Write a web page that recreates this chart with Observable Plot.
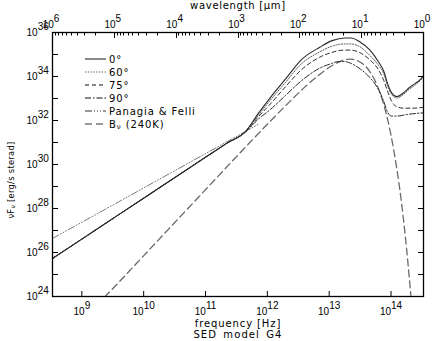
<!DOCTYPE html>
<html><head><meta charset="utf-8">
<script src="https://cdn.jsdelivr.net/npm/d3@7"></script>
<script src="https://cdn.jsdelivr.net/npm/@observablehq/plot@0.6"></script>
<style>
html,body{margin:0;padding:0;background:#fff;}
#chart{width:434px;height:341px;}
</style></head><body><div id="chart"></div>
<script>
// speed of light in micron/s (frequency = C / wavelength[μm])
const C_UM = 2.998e14;

// tick exponents / labels
const freqTickExp = [9, 10, 11, 12, 13, 14];
const fluxTickExp = [24,25,26,27,28,29,30,31,32,33,34,35,36];
const fluxLabelExp = [24, 26, 28, 30, 32, 34, 36];
const waveTickExp = [6, 5, 4, 3, 2, 1, 0];
const waveMinorMult = [2, 3, 4, 5, 6, 7, 8, 9];

// series (log10 frequency [Hz], log10 νFν [erg/s sterad])
const sed0LogNu = [8.477, 9.0, 9.5, 10.0, 10.5, 11.0, 11.3, 11.6, 11.8, 12.0, 12.25, 12.5, 12.8, 13.0, 13.2, 13.3, 13.45, 13.6, 13.75, 13.83, 13.9, 13.96, 14.05, 14.15, 14.25, 14.35, 14.42, 14.477];
const sed0LogF  = [25.73, 26.7, 27.63, 28.56, 29.49, 30.42, 30.97, 31.51, 32.3, 33.04, 33.9, 34.76, 35.33, 35.63, 35.75, 35.75, 35.57, 35.23, 34.66, 34.27, 33.64, 33.27, 33.09, 33.25, 33.5, 33.7, 33.85, 34.05];

const sed60LogNu = [8.477, 9.0, 9.5, 10.0, 10.5, 11.0, 11.3, 11.6, 11.8, 12.0, 12.25, 12.5, 12.8, 13.0, 13.2, 13.3, 13.45, 13.6, 13.75, 13.83, 13.9, 13.96, 14.05, 14.15, 14.25, 14.35, 14.477];
const sed60LogF  = [25.73, 26.7, 27.63, 28.56, 29.49, 30.42, 30.97, 31.5, 32.22, 32.92, 33.75, 34.57, 35.12, 35.38, 35.48, 35.48, 35.35, 34.98, 34.5, 34.15, 33.55, 33.18, 33.02, 33.18, 33.43, 33.63, 33.97];

const sed75LogNu = [8.477, 9.0, 9.5, 10.0, 10.5, 11.0, 11.3, 11.6, 11.8, 12.0, 12.25, 12.5, 12.8, 13.0, 13.2, 13.3, 13.45, 13.6, 13.75, 13.83, 13.9, 13.96, 14.05, 14.15, 14.3, 14.477];
const sed75LogF  = [25.73, 26.7, 27.63, 28.56, 29.49, 30.42, 30.97, 31.49, 32.15, 32.75, 33.55, 34.3, 34.88, 35.1, 35.2, 35.2, 35.08, 34.78, 34.3, 33.85, 33.3, 32.88, 32.62, 32.56, 32.56, 32.6];

const sed90LogNu = [8.477, 9.0, 9.5, 10.0, 10.5, 11.0, 11.3, 11.6, 11.8, 12.0, 12.25, 12.5, 12.8, 13.0, 13.1, 13.2, 13.3, 13.45, 13.6, 13.75, 13.83, 13.9, 13.96, 14.05, 14.2, 14.477];
const sed90LogF  = [25.73, 26.7, 27.63, 28.56, 29.49, 30.42, 30.97, 31.48, 32.05, 32.5, 33.15, 33.8, 34.38, 34.6, 34.68, 34.68, 34.6, 34.35, 33.98, 33.4, 32.9, 32.35, 32.2, 32.2, 32.27, 32.35];

const pfLogNu = [8.477, 9.0, 9.5, 10.0, 10.5, 11.0, 11.5, 11.8];
const pfLogF  = [26.64, 27.45, 28.23, 29.01, 29.79, 30.57, 31.35, 31.82];

const bbLogNu = [9.2, 9.33, 9.5, 10.0, 10.5, 11.0, 11.5, 12.0, 12.25, 12.5, 12.75, 13.0, 13.15, 13.3, 13.45, 13.6, 13.75, 13.9, 14.0, 14.1, 14.2, 14.3];
const bbLogF  = [23.6, 24.0, 24.5, 26.0, 27.5, 29.0, 30.5, 31.97, 32.68, 33.37, 33.99, 34.5, 34.71, 34.79, 34.66, 34.26, 33.43, 32.01, 30.58, 28.73, 26.26, 23.13];

const legendLabels = ["0°", "60°", "75°", "90°", "Panagia & Felli", "Bν (240K)"];

const toRows = (ln, lf) => ln.map((n, i) => ({nu: 10 ** n, f: 10 ** lf[i]}));

const styles = [
  {stroke: "#2a2a2a", strokeWidth: 1.1, dash: null},
  {stroke: "#555", strokeWidth: 1, dash: "1.2,1.6"},
  {stroke: "#111", strokeWidth: 0.9, dash: "4,3"},
  {stroke: "#111", strokeWidth: 0.9, dash: "6,2,1.5,2"},
  {stroke: "#777", strokeWidth: 1, dash: "7,2,1,2,1,2,1,2"},
  {stroke: "#6a6a6a", strokeWidth: 1.3, dash: "7,4"}
];

const series = [
  toRows(sed0LogNu, sed0LogF), toRows(sed60LogNu, sed60LogF), toRows(sed75LogNu, sed75LogF),
  toRows(sed90LogNu, sed90LogF), toRows(pfLogNu, pfLogF), toRows(bbLogNu, bbLogF)
];

const lineMarks = series.map((rows, i) => Plot.line(rows, {
  x: "nu", y: "f", stroke: styles[i].stroke, strokeWidth: styles[i].strokeWidth,
  strokeDasharray: styles[i].dash, curve: "monotone-x", clip: true
})).reverse();

const freqTicks = freqTickExp.map(e => 10 ** e);
const fluxTicks = fluxTickExp.map(e => 10 ** e);
const waveMajor = waveTickExp.map(e => C_UM / 10 ** e);
const waveMinor = waveTickExp.slice(1).flatMap(e => waveMinorMult.map(k => C_UM / (k * 10 ** e)));
const expOf = d => Math.round(Math.log10(d));

const chart = Plot.plot({
  width: 434, height: 341,
  marginLeft: 52, marginRight: 11, marginTop: 32, marginBottom: 45,
  style: {fontFamily: "'Liberation Sans', Arial, sans-serif", fontSize: "10px", background: "white", color: "black"},
  x: {type: "log", domain: [C_UM / 1e6, C_UM / 1], label: null},
  y: {type: "log", domain: [1e24, 1e36], label: null},
  marks: [
    ...lineMarks,
    Plot.frame({stroke: "black", strokeWidth: 1.3}),
    Plot.axisX({anchor: "bottom", ticks: freqTicks, tickSize: -5, tickPadding: 16.5, dx: -3,
      tickFormat: d => "10^" + expOf(d), label: null}),
    Plot.axisY({anchor: "left", ticks: fluxTicks, tickSize: -6, tickPadding: 9.7,
      tickFormat: d => fluxLabelExp.includes(expOf(d)) ? "10^" + expOf(d) : "", label: null}),
    Plot.axisY({anchor: "right", ticks: fluxTicks, tickSize: -6, tickFormat: () => "", label: null})
  ]
});

document.getElementById("chart").appendChild(chart);

const NS = "http://www.w3.org/2000/svg";
const svg = d3.select(chart);
const xs = chart.scale("x");
const frameTop = 32;

// top (wavelength) axis, positioned through Plot's x scale
const ta = svg.append("g").attr("stroke", "black").attr("stroke-width", 1);
waveMajor.forEach(v => {
  const px = Math.round(xs.apply(v)) + 0.5;
  ta.append("line").attr("x1", px).attr("x2", px).attr("y1", frameTop).attr("y2", frameTop + 6);
});
waveMinor.forEach(v => {
  const px = Math.round(xs.apply(v)) + 0.5;
  ta.append("line").attr("x1", px).attr("x2", px).attr("y1", frameTop).attr("y2", frameTop + 3.5);
});
const tl = svg.append("g").attr("font-family", "'Liberation Sans', Arial, sans-serif").attr("font-size", 10)
  .attr("text-anchor", "middle").attr("fill", "black");
waveMajor.forEach(v => {
  const t = tl.append("text").attr("x", xs.apply(v) - 1).attr("y", 28.3);
  t.append("tspan").text("10");
  t.append("tspan").attr("dy", "-0.62em").text(String(expOf(C_UM / v)));
});

// superscript exponents in Plot tick labels
chart.querySelectorAll('g[aria-label$="tick label"] text').forEach(t => {
  const m = /^10\^(\d+)$/.exec(t.textContent);
  if (!m) return;
  t.textContent = "";
  const a = document.createElementNS(NS, "tspan"); a.textContent = "10"; t.appendChild(a);
  const b = document.createElementNS(NS, "tspan"); b.setAttribute("dy", "-0.62em"); b.textContent = m[1]; t.appendChild(b);
});

const titleFont = "'DejaVu Sans', sans-serif";

svg.append("text").attr("x", 238).attr("y", 9).attr("text-anchor", "middle")
  .attr("font-family", titleFont).attr("font-size", 10).attr("letter-spacing", 0.7)
  .text("wavelength [μm]");
svg.append("text").attr("x", 238).attr("y", 327).attr("text-anchor", "middle")
  .attr("font-family", titleFont).attr("font-size", 10).attr("letter-spacing", 0.9)
  .text("frequency [Hz]");
svg.append("text").attr("x", 238).attr("y", 337.5).attr("text-anchor", "middle")
  .attr("font-family", titleFont).attr("font-size", 10).attr("letter-spacing", 1.1)
  .attr("word-spacing", 2).text("SED model G4");

// y label
const yl = svg.append("text").attr("transform", "translate(13.5,180) rotate(-90)")
  .attr("text-anchor", "middle").attr("font-family", titleFont).attr("font-size", 8.3)
  .attr("letter-spacing", 0.3);
yl.append("tspan").text("νF");
yl.append("tspan").attr("font-size", 6).attr("dy", 1.8).text("ν");
yl.append("tspan").attr("dy", -1.8).text(" [erg/s sterad]");

// legend
const lg = svg.append("g");
legendLabels.forEach((lab, i) => {
  const y = 59 + i * 13;
  lg.append("line").attr("x1", 85).attr("x2", 106).attr("y1", y).attr("y2", y)
    .attr("stroke", i >= 4 ? "#333" : styles[i].stroke).attr("stroke-width", 1.1)
    .attr("stroke-dasharray", styles[i].dash);
  const t = lg.append("text").attr("x", 109).attr("y", y + 3.6).attr("text-anchor", "start")
    .attr("font-family", titleFont).attr("font-size", 10).attr("letter-spacing", 0.9);
  if (lab.startsWith("Bν")) {
    t.append("tspan").text("B");
    t.append("tspan").attr("font-size", 7).attr("dy", 1.5).text("ν");
    t.append("tspan").attr("dy", -1.5).text(" (240K)");
  } else {
    t.text(lab);
  }
});
</script></body></html>
